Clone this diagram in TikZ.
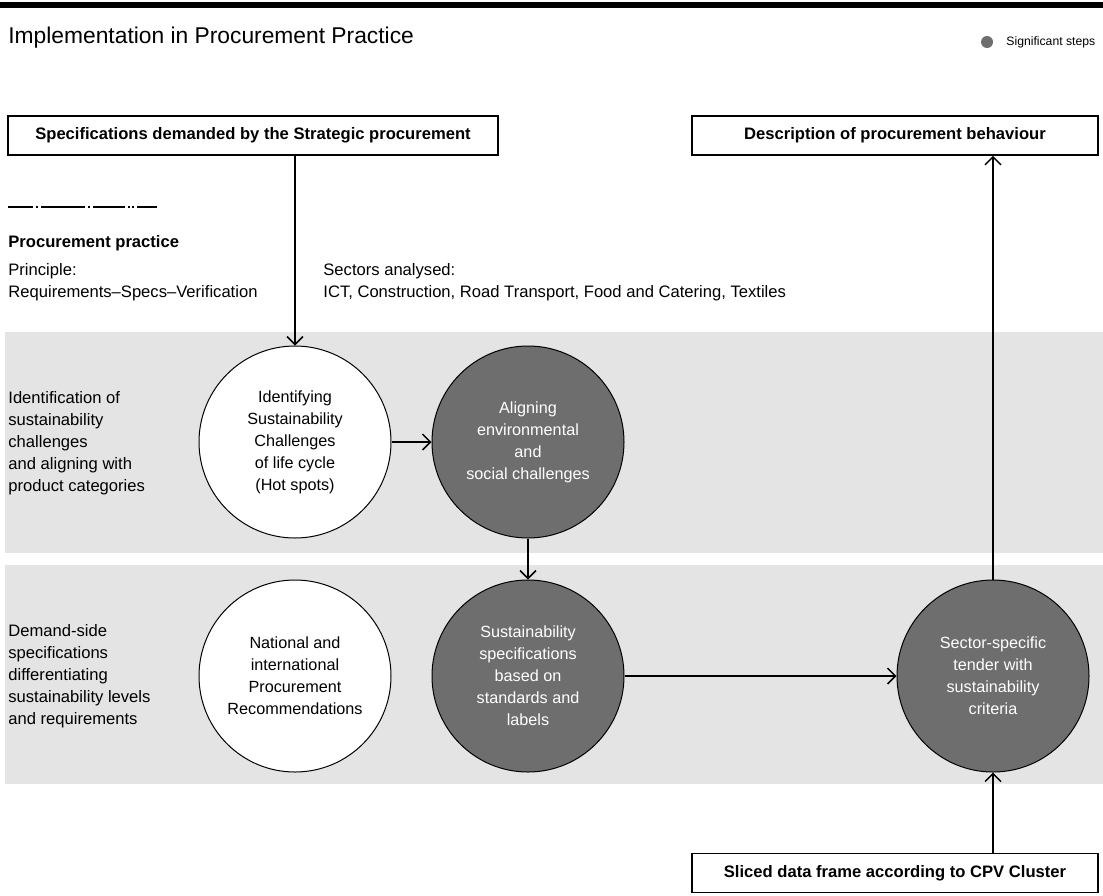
\documentclass[tikz,border=0pt]{standalone}
\usepackage{fontspec}
\setmainfont{Liberation Sans}
\usetikzlibrary{arrows.meta}
\definecolor{bandgray}{HTML}{E4E4E4}
\definecolor{stepgray}{HTML}{6E6E6E}
\tikzset{
  >={Straight Barb[length=1.4mm,width=2.8mm]},
  txt/.style={font=\fontsize{8.3}{11}\selectfont,align=left,inner sep=0pt},
  hdbox/.style={draw,line width=0.8pt,fill=white,inner sep=0pt,
    minimum height=19.5pt,font=\bfseries\fontsize{8.3}{9}\selectfont},
  wstep/.style={circle,draw,line width=0.5pt,fill=white,minimum size=96pt,
    inner sep=0pt,align=center,font=\fontsize{8.1}{11}\selectfont},
  dstep/.style={wstep,fill=stepgray,text=white},
  flow/.style={->,line width=0.75pt},
}

\begin{document}
\begin{tikzpicture}[x=0.5pt,y=-0.5pt]
  \useasboundingbox (0,0) rectangle (1103,895);
  % header
  \fill (0,2) rectangle (1103,8);
  \node[anchor=west,inner sep=0pt,font=\fontsize{11.4}{13}\selectfont]
    (title) at (8,38) {Implementation in Procurement Practice};
  \node[circle,fill=stepgray,minimum size=6pt,inner sep=0pt] (key) at (987,42) {};
  \node[anchor=west,inner sep=0pt,font=\fontsize{6.1}{7}\selectfont]
    (keylbl) at (1006,42) {Significant steps};

  % bands
  \fill[bandgray] (5,332) rectangle (1103,553);
  \fill[bandgray] (5,565) rectangle (1103,784);

  \draw[line width=0.75pt,dash pattern=on 12.5pt off 1.5pt on 1pt off 1.5pt
    on 22pt off 1.5pt on 1pt off 1.5pt on 16pt off 1.5pt on 1pt off 1pt
    on 1pt off 1.5pt on 10pt] (8,207) -- (158,207);
  \node[txt,anchor=west,font=\bfseries\fontsize{8.3}{11}\selectfont]
    (practice) at (8,243) {Procurement practice};
  \node[txt,anchor=west] (principle) at (8,282)
    {Principle:\\Requirements--Specs--Verification};
  \node[txt,anchor=west] (sectors) at (323,282)
    {Sectors analysed:\\ICT, Construction, Road Transport, Food and Catering, Textiles};

  \node[txt,anchor=west] (row1) at (8,443)
    {Identification of\\sustainability\\challenges\\and aligning with\\product categories};
  \node[txt,anchor=west] (row2) at (8,676)
    {Demand-side\\specifications\\differentiating\\sustainability levels\\and requirements};

  % boxes
  \node[hdbox,minimum width=245pt] (spec) at (253,135.5)
    {Specifications demanded by the Strategic procurement};
  \node[hdbox,minimum width=203pt] (descr) at (895,135.5)
    {Description of procurement behaviour};
  \node[hdbox,minimum width=203pt] (sliced) at (895,873)
    {Sliced data frame according to CPV Cluster};

  % steps
  \node[wstep] (hotspots) at (295,442)
    {Identifying\\Sustainability\\Challenges\\of life cycle\\(Hot spots)};
  \node[dstep] (aligning) at (528,442)
    {Aligning\\environmental\\and\\social challenges};
  \node[wstep] (recomm) at (295,676)
    {National and\\international\\Procurement\\Recommendations};
  \node[dstep] (specs) at (528,676)
    {Sustainability\\specifications\\based on\\standards and\\labels};
  \node[dstep] (tender) at (993,676)
    {Sector-specific\\tender with\\sustainability\\criteria};

  \draw[flow] (spec.south -| hotspots) -- (hotspots);
  \draw[flow] (hotspots) -- (aligning);
  \draw[flow] (aligning) -- (specs);
  \draw[flow] (specs) -- (tender);
  \draw[flow] (tender) -- (tender |- descr.south);
  \draw[flow] (sliced.north -| tender) -- (tender);
\end{tikzpicture}
\end{document}
